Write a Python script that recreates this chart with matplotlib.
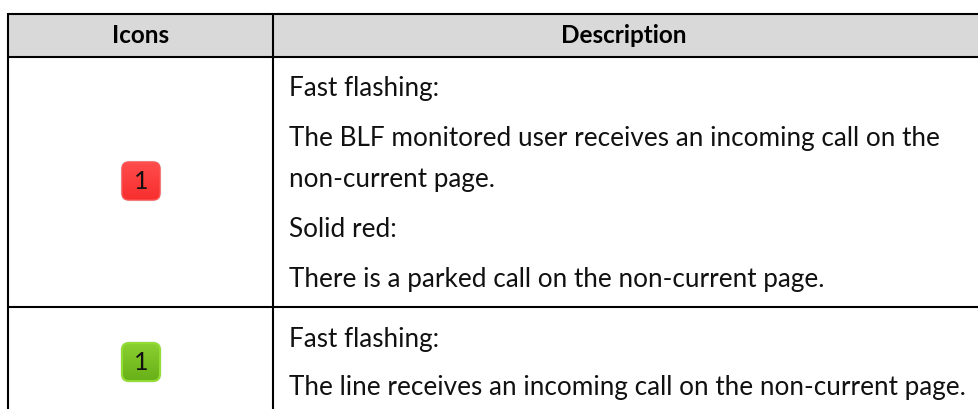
import numpy as np
import matplotlib
matplotlib.use("Agg")
import matplotlib.pyplot as plt
from matplotlib.patches import FancyBboxPatch
from matplotlib.colors import LinearSegmentedColormap

W, H = 979, 409

header_labels = ["Icons", "Description"]
row1_lines = ["Fast flashing:",
              "The BLF monitored user receives an incoming call on the",
              "non-current page.",
              "Solid red:",
              "There is a parked call on the non-current page."]
row1_baselines = [96, 146, 187, 237, 287]
row2_lines = ["Fast flashing:",
              "The line receives an incoming call on the non-current page."]
row2_baselines = [347, 395]
icon_label = "1"

plt.rcParams['font.family'] = ['Lato', 'DejaVu Sans']

fig = plt.figure(figsize=(W / 100, H / 100), dpi=100)
ax = fig.add_axes([0, 0, 1, 1])
ax.set_xlim(0, W)
ax.set_ylim(H, 0)
ax.axis('off')

#header band
ax.fill_between([9, W], 14, 56, color='#d9d9d9', lw=0, zorder=1)

#table lines
lw = 1.5
ax.plot([8.5, W], [14, 14], color='black', lw=lw, zorder=2, solid_capstyle='butt')
ax.plot([8.5, W], [56.5, 56.5], color='black', lw=lw, zorder=2, solid_capstyle='butt')
ax.plot([8.5, W], [306.5, 306.5], color='black', lw=lw, zorder=2, solid_capstyle='butt')
ax.plot([8.5, 8.5], [13, H], color='black', lw=lw, zorder=2, solid_capstyle='butt')
ax.plot([273.5, 273.5], [13, H], color='black', lw=lw, zorder=2, solid_capstyle='butt')

#header text
ax.text(141, 35.5, header_labels[0], ha='center', va='center', fontsize=17.5, fontweight='bold', zorder=3)
ax.text(624, 35.5, header_labels[1], ha='center', va='center', fontsize=17.5, fontweight='bold', zorder=3)

#body text
for line, y in zip(row1_lines + row2_lines, row1_baselines + row2_baselines):
    ax.text(289, y, line, ha='left', va='baseline', fontsize=18.85, color='#111111', zorder=3)


def icon(x0, y0, x1, y1, top, bottom, rim, rim_lw):
    #soft glow round the button
    for grow, alpha in [(1.5, 0.12), (0.7, 0.22)]:
        ax.add_patch(FancyBboxPatch((x0 + 7, y0 + 7), x1 - x0 - 14, y1 - y0 - 14,
                                    boxstyle=f'round,pad={7 + grow},rounding_size={7 + grow}',
                                    fc='#808080', ec='none', alpha=alpha, zorder=4))
    cmap = LinearSegmentedColormap.from_list('g', [top, bottom])
    im = ax.imshow(np.linspace(0, 1, 50).reshape(-1, 1), cmap=cmap, aspect='auto',
                   extent=[x0, x1, y1, y0], zorder=5)
    box = FancyBboxPatch((x0 + 7, y0 + 7), x1 - x0 - 14, y1 - y0 - 14,
                         boxstyle='round,pad=7,rounding_size=7', fc='none', ec=rim, lw=rim_lw, zorder=6)
    ax.add_patch(box)
    im.set_clip_path(box)
    ax.text((x0 + x1) / 2, (y0 + y1) / 2 + 0.5, icon_label, ha='center', va='center',
            fontsize=18, color='#111111', zorder=7)


icon(122, 162, 160, 200, '#ff4c4c', '#f82e2e', '#ff5050', 1.0)
icon(122, 343, 160, 381, '#8ad030', '#68b018', '#92dc34', 1.5)

ax.set_xlim(0, W)
ax.set_ylim(H, 0)
fig.savefig('out.png', dpi=100)
